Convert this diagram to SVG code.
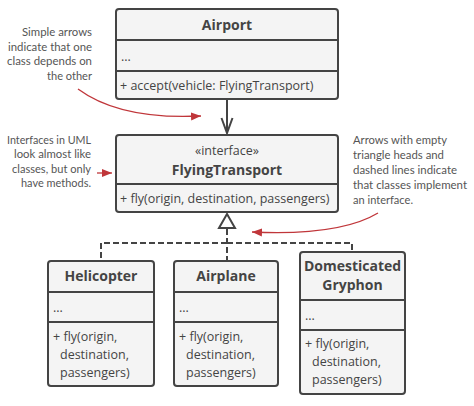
<svg xmlns="http://www.w3.org/2000/svg" width="474" height="406" viewBox="0 0 474 406">
<defs>
<style>
.box{fill:#f4f4f4;stroke:#444;stroke-width:2}
.div{stroke:#444;stroke-width:2}
.t{font-family:"Open Sans","DejaVu Sans",sans-serif;font-size:12.5px;fill:#444}
.b{font-weight:bold;font-size:14px;text-anchor:middle}
.n{font-family:Lato,"Open Sans",sans-serif;font-size:11.5px;fill:#555}
.r{text-anchor:end}
.dash{stroke:#444;stroke-width:2;stroke-dasharray:6 3;fill:none}
.red{stroke:#c0363a;stroke-width:1.3;fill:none}
</style>
<marker id="rh" viewBox="0 0 10 10" refX="10" refY="5" markerWidth="10" markerHeight="10" markerUnits="userSpaceOnUse" orient="auto"><path d="M0,1 L10,5 L0,9 Z" fill="#c0363a"/></marker>
</defs>
<rect width="474" height="406" fill="#fff"/>

<g id="connectors">
<line x1="227" y1="100" x2="227" y2="133" stroke="#444" stroke-width="2"/>
<path d="M221.5,118 L227,133 L232.5,118" fill="none" stroke="#444" stroke-width="2"/>
<polygon points="227,214 235,228 219,228" fill="#fff" stroke="#444" stroke-width="2"/>
<path class="dash" d="M227,229 V261 M227,243 H352 V252 M227,243 H101 V261"/>
<path class="red" d="M78,89 Q120,120 201,116" marker-end="url(#rh)"/>
<path class="red" d="M97,173 H112" marker-end="url(#rh)"/>
<path class="red" d="M378,213 Q340,236 252,232" marker-end="url(#rh)"/>
</g>

<g id="airport">
<rect class="box" x="116" y="9" width="222" height="90" rx="3"/>
<line class="div" x1="116" y1="40" x2="338" y2="40"/>
<line class="div" x1="116" y1="71" x2="338" y2="71"/>
<text class="t b" x="227" y="30">Airport</text>
<text class="t" x="121" y="61">...</text>
<text class="t" x="120" y="90">+ accept(vehicle: FlyingTransport)</text>
</g>

<g id="flyingtransport">
<rect class="box" x="116" y="135" width="222" height="77" rx="3"/>
<line class="div" x1="116" y1="184" x2="338" y2="184"/>
<text class="t" x="227" y="155" text-anchor="middle" font-size="14">«interface»</text>
<text class="t b" x="227" y="175">FlyingTransport</text>
<text class="t" x="120" y="203">+ fly(origin, destination, passengers)</text>
</g>

<g id="helicopter">
<rect class="box" x="48" y="261" width="106" height="125" rx="3"/>
<line class="div" x1="48" y1="292" x2="154" y2="292"/>
<line class="div" x1="48" y1="322" x2="154" y2="322"/>
<text class="t b" x="101" y="281">Helicopter</text>
<text class="t" x="53" y="312">...</text>
<text class="t" x="53" y="341">+ fly(origin,</text>
<text class="t" x="60" y="359">destination,</text>
<text class="t" x="60" y="377">passengers)</text>
</g>

<g id="airplane">
<rect class="box" x="174" y="261" width="104" height="125" rx="3"/>
<line class="div" x1="174" y1="292" x2="278" y2="292"/>
<line class="div" x1="174" y1="322" x2="278" y2="322"/>
<text class="t b" x="226" y="281">Airplane</text>
<text class="t" x="179" y="312">...</text>
<text class="t" x="179" y="341">+ fly(origin,</text>
<text class="t" x="186" y="359">destination,</text>
<text class="t" x="186" y="377">passengers)</text>
</g>

<g id="gryphon">
<rect class="box" x="300" y="252" width="105" height="142" rx="3"/>
<line class="div" x1="300" y1="300" x2="405" y2="300"/>
<line class="div" x1="300" y1="330" x2="405" y2="330"/>
<text class="t b" x="352.5" y="271">Domesticated</text>
<text class="t b" x="352.5" y="290">Gryphon</text>
<text class="t" x="305" y="320">...</text>
<text class="t" x="305" y="348">+ fly(origin,</text>
<text class="t" x="312" y="366">destination,</text>
<text class="t" x="312" y="384">passengers)</text>
</g>

<g id="notes">
<text class="n r" x="92" y="36" textLength="70" lengthAdjust="spacingAndGlyphs">Simple arrows</text>
<text class="n r" x="92" y="51" textLength="84" lengthAdjust="spacingAndGlyphs">indicate that one</text>
<text class="n r" x="92" y="65" textLength="85" lengthAdjust="spacingAndGlyphs">class depends on</text>
<text class="n r" x="92" y="80" textLength="45" lengthAdjust="spacingAndGlyphs">the other</text>
<text class="n r" x="91" y="144" textLength="84" lengthAdjust="spacingAndGlyphs">Interfaces in UML</text>
<text class="n r" x="91" y="158" textLength="77" lengthAdjust="spacingAndGlyphs">look almost like</text>
<text class="n r" x="91" y="173" textLength="79" lengthAdjust="spacingAndGlyphs">classes, but only</text>
<text class="n r" x="91" y="187" textLength="70" lengthAdjust="spacingAndGlyphs">have methods.</text>
<text class="n" x="353" y="144" textLength="94" lengthAdjust="spacingAndGlyphs">Arrows with empty</text>
<text class="n" x="353" y="159" textLength="91" lengthAdjust="spacingAndGlyphs">triangle heads and</text>
<text class="n" x="353" y="174" textLength="104" lengthAdjust="spacingAndGlyphs">dashed lines indicate</text>
<text class="n" x="353" y="189" textLength="114" lengthAdjust="spacingAndGlyphs">that classes implement</text>
<text class="n" x="353" y="204" textLength="60" lengthAdjust="spacingAndGlyphs">an interface.</text>
</g>
</svg>
